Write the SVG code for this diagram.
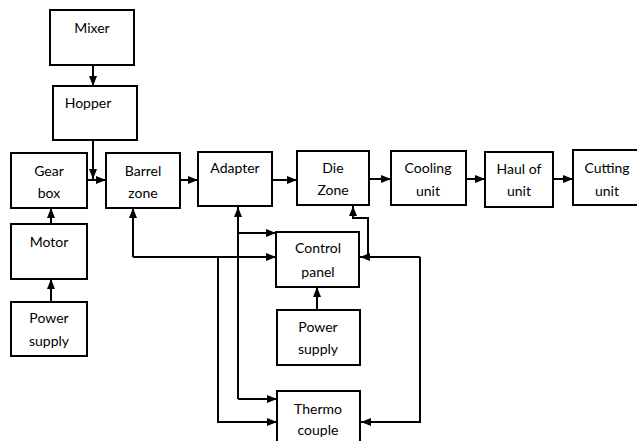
<svg xmlns="http://www.w3.org/2000/svg" width="637" height="441" viewBox="0 0 637 441">
<defs>
<marker id="ah" markerUnits="userSpaceOnUse" markerWidth="10" markerHeight="10" viewBox="0 0 10 10" refX="10" refY="5" orient="auto">
<path d="M0,1 L10,5 L0,9 Z" fill="#000"/>
</marker>
<style>
.box{fill:#fff;stroke:#000;stroke-width:2}
.t{font-family:Lato,"Open Sans","Liberation Sans",sans-serif;font-size:14px;text-anchor:middle;fill:#000}
.c{fill:none;stroke:#000;stroke-width:2;marker-end:url(#ah)}
.l{fill:none;stroke:#000;stroke-width:2}
</style>
</defs>
<rect width="637" height="441" fill="#fff"/>
<g id="connectors">
<path class="c" d="M93,65 V86"/>
<path class="c" d="M93,140 V179"/>
<path class="c" d="M87,180 H106"/>
<path class="c" d="M180,180 H198"/>
<path class="c" d="M272,180 H297"/>
<path class="c" d="M369,179 H391"/>
<path class="c" d="M466,179 H485"/>
<path class="c" d="M553,179 H573"/>
<path class="c" d="M51,224 V208"/>
<path class="c" d="M51,302 V279"/>
<path class="c" d="M317,310 V287"/>
<path class="c" d="M133,257 V208"/>
<path class="c" d="M133,257 H276"/>
<path class="c" d="M218,257 V422 H277"/>
<path class="c" d="M238,399 V207"/>
<path class="c" d="M238,233 H276"/>
<path class="c" d="M238,399 H277"/>
<path class="c" d="M420,257 H360"/>
<path class="c" d="M368,257 V218 H353 V206"/>
<path class="c" d="M420,257 V422 H361"/>
</g>
<g id="mixer"><rect class="box" x="50" y="10" width="84" height="55"/><text class="t" x="92" y="33">Mixer</text></g>
<g id="hopper"><rect class="box" x="53" y="86" width="84" height="54"/><text class="t" x="88" y="108">Hopper</text></g>
<g id="gearbox"><rect class="box" x="11" y="153" width="76" height="55"/><text class="t" x="49" y="176">Gear</text><text class="t" x="49" y="198">box</text></g>
<g id="motor"><rect class="box" x="11" y="224" width="76" height="55"/><text class="t" x="49" y="247">Motor</text></g>
<g id="power1"><rect class="box" x="11" y="302" width="76" height="54"/><text class="t" x="49" y="323">Power</text><text class="t" x="49" y="346">supply</text></g>
<g id="barrel"><rect class="box" x="106" y="153" width="74" height="55"/><text class="t" x="143" y="176">Barrel</text><text class="t" x="143" y="198">zone</text></g>
<g id="adapter"><rect class="box" x="198" y="152" width="74" height="54"/><text class="t" x="235" y="173">Adapter</text></g>
<g id="die"><rect class="box" x="297" y="151" width="72" height="54"/><text class="t" x="333" y="173">Die</text><text class="t" x="333" y="195">Zone</text></g>
<g id="cooling"><rect class="box" x="391" y="151" width="75" height="54"/><text class="t" x="428" y="173">Cooling</text><text class="t" x="428" y="196">unit</text></g>
<g id="haul"><rect class="box" x="485" y="152" width="68" height="55"/><text class="t" x="519" y="174">Haul of</text><text class="t" x="519" y="196">unit</text></g>
<g id="cutting"><rect class="box" x="573" y="150" width="70" height="55"/><text class="t" x="607" y="173">Cutting</text><text class="t" x="607" y="196">unit</text></g>
<g id="control"><rect class="box" x="276" y="232" width="83" height="55"/><text class="t" x="318" y="253">Control</text><text class="t" x="318" y="277">panel</text></g>
<g id="power2"><rect class="box" x="277" y="310" width="83" height="55"/><text class="t" x="318" y="332">Power</text><text class="t" x="318" y="354">supply</text></g>
<g id="thermo"><rect class="box" x="277" y="391" width="83" height="60"/><text class="t" x="318" y="414">Thermo</text><text class="t" x="318" y="435">couple</text></g>
</svg>
